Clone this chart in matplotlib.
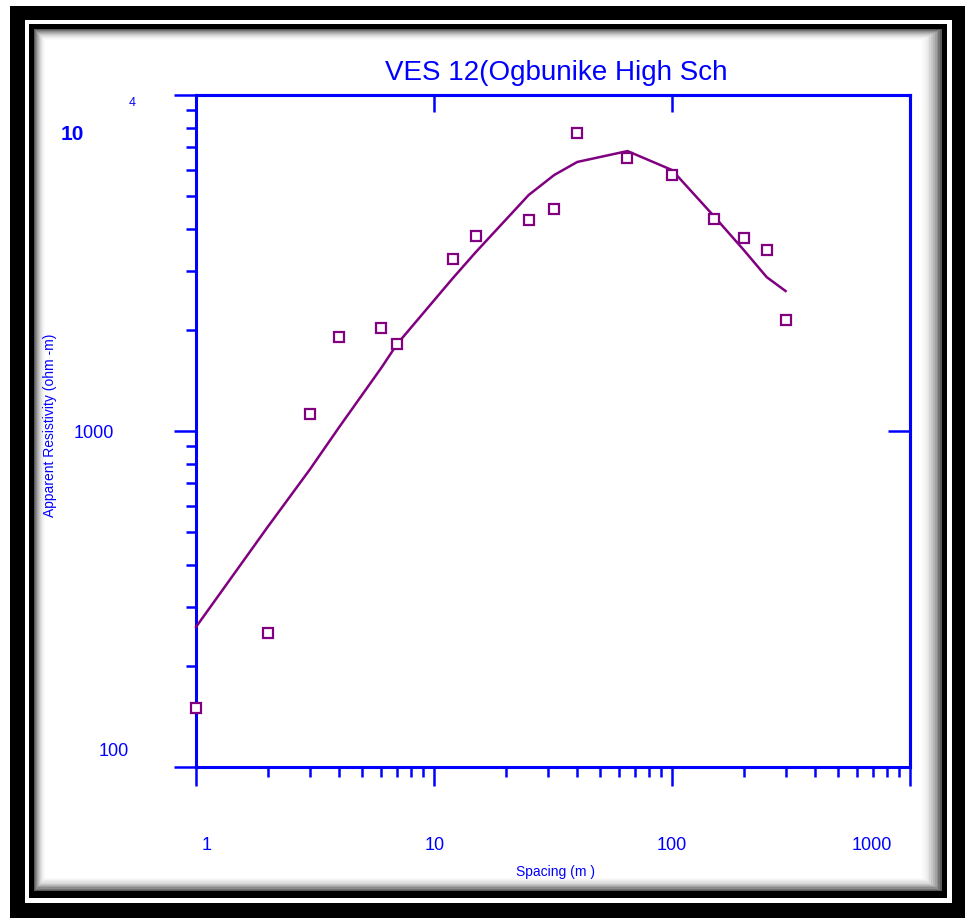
import numpy as np
import matplotlib
matplotlib.use("Agg")
import matplotlib.pyplot as plt
from matplotlib.patches import Rectangle
from matplotlib.ticker import LogLocator, NullLocator, NullFormatter
from matplotlib.transforms import ScaledTranslation

# VES 12 sounding data
spacing = [1, 2, 3, 4, 6, 7, 12, 15, 25, 32, 40, 65, 100, 150, 200, 250, 300]
rho_obs = [150, 250, 1120, 1900, 2020, 1815, 3250, 3800, 4250, 4580,
           7710, 6490, 5780, 4280, 3750, 3460, 2140]
rho_fit = [261, 518, 766, 1028, 1540, 1815, 2850, 3410, 5040, 5780,
           6320, 6810, 5980, 4360, 3460, 2870, 2610]

x_ticks = [1, 10, 100, 1000]
x_ticklabels = ["1", "10", "100", "1000"]
y_ticks = [100, 1000, 10000]

title = "VES 12(Ogbunike High Sch"
xlabel = "Spacing (m )"
ylabel = "Apparent Resistivity (ohm -m)"

BLUE = "#0000FF"
PURPLE = "#800080"
W, H = 965, 918

fig = plt.figure(figsize=(W / 100, H / 100), dpi=100)
fig.patch.set_facecolor("white")


def px_rect(x0, y0, x1, y1, color, z=-10):
    fig.add_artist(Rectangle((x0 / W, 1 - y1 / H), (x1 - x0) / W, (y1 - y0) / H,
                             transform=fig.transFigure, facecolor=color,
                             edgecolor="none", zorder=z))


# picture frame: thick black, thin white, thin black, soft inner shadow
px_rect(10, 6, 975, 930, "black")
px_rect(25, 20, 952, 903, "white")
px_rect(29, 24, 947, 898, "black")
n = 12
for i in range(n + 1):
    v = 1 - 0.65 * (1 - i / n) ** 2
    px_rect(34 + i, 29 + i, 942 - 1.8 * i, 891 - 1.2 * i, (v, v, v))

ax = fig.add_axes([196 / W, (H - 767) / H, (910 - 196) / W, (767 - 95) / H])
ax.set_facecolor("none")
ax.set_xscale("log")
ax.set_yscale("log")
ax.set_xlim(1, 1000)
ax.set_ylim(100, 10000)

ax.plot(spacing, rho_fit, color=PURPLE, lw=1.8, zorder=3, clip_on=False)
ax.plot(spacing, rho_obs, ls="none", marker="s", ms=6.5, mfc="white",
        mec=PURPLE, mew=1.6, zorder=4, clip_on=False)

for s in ax.spines.values():
    s.set_color(BLUE)
    s.set_linewidth(2.2)

ax.set_xticks(x_ticks)
ax.set_yticks(y_ticks)
ax.xaxis.set_minor_locator(LogLocator(base=10, subs=np.arange(2, 10)))
ax.yaxis.set_minor_locator(LogLocator(base=10, subs=np.arange(2, 10)))
ax.xaxis.set_major_formatter(NullFormatter())
ax.xaxis.set_minor_formatter(NullFormatter())
ax.yaxis.set_major_formatter(NullFormatter())
ax.yaxis.set_minor_formatter(NullFormatter())
ax.tick_params(axis="x", which="major", direction="out", length=14, width=1.8,
               color=BLUE, top=False)
ax.tick_params(axis="x", which="minor", direction="out", length=7, width=1.8,
               color=BLUE, top=False)
ax.tick_params(axis="y", which="major", direction="out", length=16, width=1.8,
               color=BLUE, right=False)
ax.tick_params(axis="y", which="minor", direction="out", length=7.5, width=1.8,
               color=BLUE, right=False)

# top and right: major ticks only, pointing inwards
top = ax.secondary_xaxis("top")
top.set_xticks(x_ticks)
top.xaxis.set_minor_locator(NullLocator())
top.xaxis.set_major_formatter(NullFormatter())
top.tick_params(direction="in", length=12, width=1.8, color=BLUE)
top.spines["top"].set_color(BLUE)
top.spines["top"].set_linewidth(2.2)

right = ax.secondary_yaxis("right")
right.set_yticks(y_ticks)
right.yaxis.set_minor_locator(NullLocator())
right.yaxis.set_major_formatter(NullFormatter())
right.tick_params(direction="in", length=16, width=1.8, color=BLUE)
right.spines["right"].set_color(BLUE)
right.spines["right"].set_linewidth(2.2)

font = "Liberation Sans"


def shifted(base, dx, dy):
    return base + ScaledTranslation(dx / 100, -dy / 100, fig.dpi_scale_trans)


# x tick labels (pixel nudges as placed by the original software)
x_nudge = [11, 1, 0, -38]
for val, lab, dx in zip(x_ticks, x_ticklabels, x_nudge):
    ax.text(val, 0, lab, transform=shifted(ax.get_xaxis_transform(), dx, 78),
            ha="center", va="center", color=BLUE, fontsize=13, family=font)

# y tick labels
ax.text(0, 1000, "1000", transform=shifted(ax.get_yaxis_transform(), -102, 2),
        ha="center", va="center", color=BLUE, fontsize=13, family=font)
ax.text(0, 100, "100", transform=shifted(ax.get_yaxis_transform(), -82, -15),
        ha="center", va="center", color=BLUE, fontsize=13, family=font)
ax.text(0, 10000, "10", transform=shifted(ax.get_yaxis_transform(), -124, 40),
        ha="center", va="center", color=BLUE, fontsize=15, family=font,
        fontweight="bold")
ax.text(0, 10000, "4", transform=shifted(ax.get_yaxis_transform(), -64, 8),
        ha="center", va="center", color=BLUE, fontsize=9, family=font)

fig.text(556 / W, 1 - 73 / H, title, ha="center", va="center", color=BLUE,
         fontsize=20, family=font)
fig.text(556 / W, 1 - 872 / H, xlabel, ha="center", va="center", color=BLUE,
         fontsize=10, family=font)
fig.text(50 / W, 1 - 425 / H, ylabel, ha="center", va="center", color=BLUE,
         fontsize=10, family=font, rotation=90)

fig.savefig("out.png", dpi=100)
